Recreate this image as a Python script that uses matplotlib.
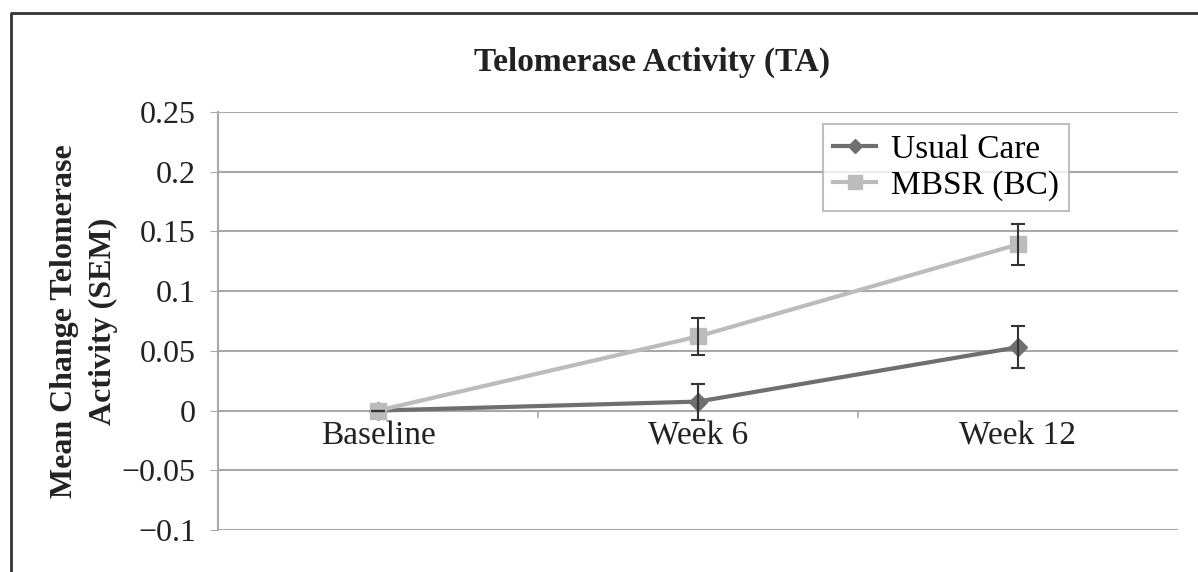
import matplotlib.pyplot as plt
from matplotlib.lines import Line2D

categories = ["Baseline", "Week 6", "Week 12"]
usual_care = [0.0, 0.0075, 0.053]
usual_err = [0.0, 0.015, 0.0175]
mbsr = [0.0, 0.062, 0.139]
mbsr_err = [0.0, 0.0155, 0.017]
yticks = [-0.1, -0.05, 0, 0.05, 0.1, 0.15, 0.2, 0.25]
ytick_labels = ["\u22120.1", "\u22120.05", "0", "0.05", "0.1", "0.15", "0.2", "0.25"]

plt.rcParams['font.family'] = ['Liberation Serif', 'DejaVu Serif']

fig = plt.figure(figsize=(11.98, 5.72), dpi=100)
ax = fig.add_axes([0.182, 0.0734, 0.801, 0.731])

dark = "#6f6f6f"
light = "#bcbcbc"
grid = "#a8a8a8"
txt = "#222222"

x = list(range(len(categories)))
ax.errorbar(x, usual_care, yerr=usual_err, fmt="none", ecolor="#333333",
            elinewidth=1.5, capsize=5, capthick=1.5, zorder=4)
ax.errorbar(x, mbsr, yerr=mbsr_err, fmt="none", ecolor="#333333",
            elinewidth=1.5, capsize=5, capthick=1.5, zorder=4)
ax.plot(x, usual_care, color=dark, lw=3, marker="D", ms=9, label="Usual Care", zorder=3)
ax.plot(x, mbsr, color=light, lw=3, marker="s", ms=12, label="MBSR (BC)", zorder=3)

ax.set_xlim(-0.5, 2.5)
ax.set_ylim(-0.1, 0.25)
ax.set_yticks(yticks)
ax.set_yticklabels(ytick_labels, fontsize=23)
ax.yaxis.grid(True, color=grid, lw=1.5)
ax.set_axisbelow(True)

# category labels sit just below the zero line, ticks between categories
ax.set_xticks([])
for i, c in enumerate(categories):
    ax.text(i, -0.0085, c, ha="center", va="top", fontsize=24, color=txt)
for b in [0.5, 1.5]:
    ax.plot([b, b], [0, -0.005], color=grid, lw=1.2, zorder=1)

for s in ["top", "right", "bottom"]:
    ax.spines[s].set_visible(False)
ax.spines["left"].set_color(grid)
ax.spines["left"].set_linewidth(1.5)
ax.tick_params(axis="y", length=6, color=grid, labelcolor=txt, pad=10)

fig.text(0.544, 0.891, "Telomerase Activity (TA)", fontsize=24, fontweight="bold",
         color=txt, ha="center", va="center")
ax.set_ylabel("Mean Change Telomerase\nActivity (SEM)", fontsize=23, color=txt,
              fontweight="bold", labelpad=3, linespacing=1.45)

leg = ax.legend(loc="upper left", bbox_to_anchor=(0.613, 1.01), fontsize=24,
                frameon=True, fancybox=False, edgecolor="#b0b0b0", handlelength=1.3,
                borderpad=0.3, labelspacing=0.15, handletextpad=0.45,
                markerscale=0.8)
leg.get_frame().set_linewidth(1.5)

# outer chart frame
fig.add_artist(Line2D([0.009, 0.009, 1.0], [0.0, 0.977, 0.977],
                      transform=fig.transFigure, color="#333333", lw=2))

fig.savefig("out.png", dpi=100)
